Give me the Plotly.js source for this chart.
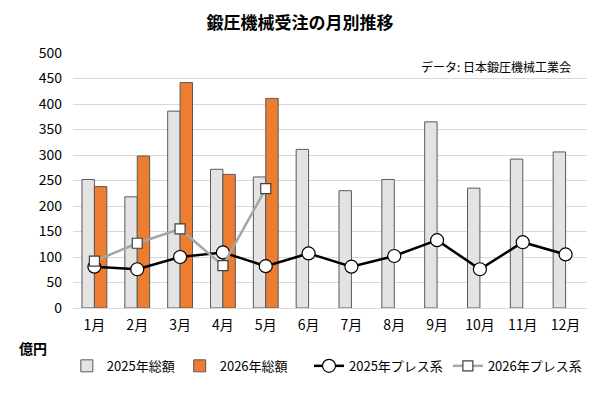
<!DOCTYPE html>
<html>
<head>
<meta charset="utf-8">
<script src="https://cdn.plot.ly/plotly-3.0.1.min.js"></script>
<style>
  html, body { margin: 0; padding: 0; background: #fff; }
  #chart { width: 600px; height: 412px; }
</style>
</head>
<body>
<div id="chart"></div>
<script>
// months and values (億円)
var months = ['1月','2月','3月','4月','5月','6月','7月','8月','9月','10月','11月','12月'];
var total2025 = [252, 218, 386, 272, 257, 311, 230, 252, 365, 235, 292, 306];
var total2026 = [238, 298, 442, 262, 411];
var press2025 = [81, 76, 100, 109, 82, 107, 81, 102, 133, 76, 129, 105];
var press2026 = [92, 127, 155, 83, 234];

var font = '"Noto Sans CJK JP", "Open Sans", sans-serif';

var trace1 = {
	x: months, y: total2025, type: 'bar', name: '2025年総額', legend: 'legend',
	marker: {color: '#e3e3e3', line: {color: '#595959', width: 1}}
};
var trace2 = {
	x: months.slice(0, total2026.length), y: total2026, type: 'bar', name: '2026年総額', legend: 'legend',
	marker: {color: '#ed7d31', line: {color: '#595959', width: 1}}
};
var trace3 = {
	x: months, y: press2025, type: 'scatter', mode: 'lines+markers', name: '2025年プレス系', legend: 'legend2',
	line: {color: '#000000', width: 2.5},
	marker: {symbol: 'circle', size: 13, color: '#ffffff', line: {color: '#000000', width: 1.2}}
};
var trace4 = {
	x: months.slice(0, press2026.length), y: press2026, type: 'scatter', mode: 'lines+markers', name: '2026年プレス系', legend: 'legend2',
	line: {color: '#a6a6a6', width: 2.5},
	marker: {symbol: 'square', size: 10, color: '#ffffff', line: {color: '#404040', width: 1.2}}
};

var layout = {
	width: 600, height: 412,
	margin: {l: 73, r: 13, t: 53, b: 104},
	paper_bgcolor: '#ffffff', plot_bgcolor: '#ffffff',
	font: {family: font, size: 14, color: '#000000'},
	title: {text: '<b>鍛圧機械受注の月別推移</b>', x: 0.5, xanchor: 'center', y: 0.945, yanchor: 'middle',
		font: {family: font, size: 17, color: '#000000'}},
	barmode: 'group', bargap: 0.42, bargroupgap: 0,
	xaxis: {
		type: 'category', range: [-0.5, 11.5], showgrid: false, zeroline: false, showline: false,
		ticks: '', ticklabelstandoff: 7, tickfont: {size: 14}
	},
	yaxis: {
		range: [0, 500], dtick: 50, showgrid: true, gridcolor: '#d9d9d9', gridwidth: 1,
		zeroline: true, zerolinecolor: '#d9d9d9', zerolinewidth: 1,
		showline: false, ticks: '', ticklabelstandoff: 10, tickfont: {size: 14}
	},
	showlegend: true,
	legend: {
		orientation: 'h', x: -0.012, xanchor: 'left', y: -0.227, yanchor: 'middle',
		font: {size: 13}, traceorder: 'normal', itemwidth: 30
	},
	legend2: {
		orientation: 'h', x: 1.0, xanchor: 'right', y: -0.227, yanchor: 'middle',
		font: {size: 13}, traceorder: 'normal', itemwidth: 30
	},
	annotations: [
		{text: 'データ: 日本鍛圧機械工業会', xref: 'paper', yref: 'paper', x: 0.972, y: 0.948,
			xanchor: 'right', yanchor: 'middle', showarrow: false, font: {size: 12}},
		{text: '<b>億円</b>', xref: 'paper', yref: 'paper', x: -0.078, y: -0.158,
			xanchor: 'center', yanchor: 'middle', showarrow: false, font: {size: 14}}
	]
};

Plotly.newPlot('chart', [trace1, trace2, trace3, trace4], layout, {displayModeBar: false, staticPlot: true});
</script>
</body>
</html>
